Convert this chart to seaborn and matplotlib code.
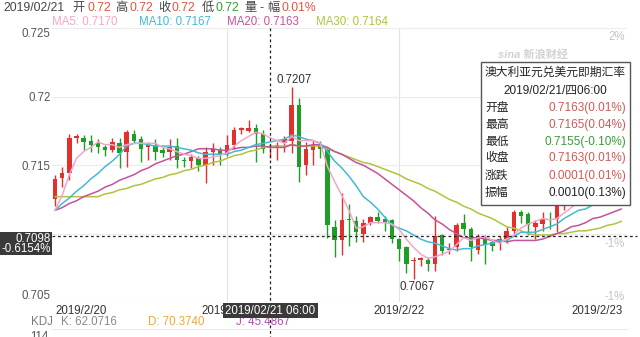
import numpy as np
import pandas as pd
import matplotlib
matplotlib.use("Agg")
import matplotlib.pyplot as plt
import seaborn as sns
from matplotlib.patches import Rectangle
from matplotlib.transforms import blended_transform_factory

# ---------------- data (hourly candles, AUD/USD, from 2019/2/20 00:00) ----------------
opens = [0.7125, 0.7141, 0.7144, 0.7170, 0.7170, 0.7168, 0.7166, 0.7163, 0.7161, 0.7166,
         0.7160, 0.7173, 0.7169, 0.7163, 0.7165, 0.7161, 0.7160, 0.7164, 0.7154, 0.7153,
         0.7155, 0.7150, 0.7160, 0.7161, 0.7159, 0.7165, 0.7176, 0.7175, 0.7177, 0.7173,
         0.7163, 0.7163, 0.7166, 0.7168, 0.7194, 0.7150, 0.7161, 0.7165, 0.7161, 0.7105,
         0.7095, 0.7111, 0.7109, 0.7100, 0.7108, 0.7112, 0.7111, 0.7110, 0.7096, 0.7090,
         0.7080, 0.7081, 0.7081, 0.7078, 0.7099, 0.7088, 0.7090, 0.7108, 0.7103, 0.7088,
         0.7096, 0.7094, 0.7093, 0.7096, 0.7102, 0.7116, 0.7114, 0.7105, 0.7107, 0.7111,
         0.7111, 0.7121, 0.7125, 0.7127, 0.7132, 0.7130, 0.7136, 0.7133, 0.7139, 0.7137]
highs = [0.7143, 0.7149, 0.7173, 0.7173, 0.7172, 0.7172, 0.7169, 0.7165, 0.7170, 0.7170,
         0.7176, 0.7176, 0.7171, 0.7167, 0.7169, 0.7163, 0.7169, 0.7170, 0.7156, 0.7158,
         0.7157, 0.7163, 0.7166, 0.7163, 0.7172, 0.7178, 0.7178, 0.7183, 0.7180, 0.7176,
         0.7165, 0.7167, 0.7171, 0.7207, 0.7199, 0.7167, 0.7168, 0.7168, 0.7163, 0.7110,
         0.7130, 0.7122, 0.7113, 0.7111, 0.7113, 0.7116, 0.7113, 0.7111, 0.7097, 0.7091,
         0.7083, 0.7083, 0.7083, 0.7113, 0.7100, 0.7093, 0.7108, 0.7114, 0.7105, 0.7100,
         0.7099, 0.7096, 0.7098, 0.7105, 0.7117, 0.7117, 0.7116, 0.7110, 0.7116, 0.7116,
         0.7126, 0.7128, 0.7131, 0.7134, 0.7136, 0.7138, 0.7140, 0.7141, 0.7142, 0.7143]
lows = [0.7120, 0.7134, 0.7139, 0.7166, 0.7161, 0.7160, 0.7159, 0.7157, 0.7160, 0.7148,
        0.7149, 0.7166, 0.7152, 0.7154, 0.7154, 0.7156, 0.7154, 0.7148, 0.7149, 0.7148,
        0.7146, 0.7137, 0.7150, 0.7150, 0.7157, 0.7162, 0.7173, 0.7174, 0.7152, 0.7159,
        0.7155, 0.7154, 0.7160, 0.7159, 0.7138, 0.7143, 0.7150, 0.7155, 0.7097, 0.7083,
        0.7084, 0.7091, 0.7094, 0.7094, 0.7106, 0.7108, 0.7102, 0.7093, 0.7080, 0.7071,
        0.7067, 0.7076, 0.7073, 0.7073, 0.7084, 0.7085, 0.7087, 0.7099, 0.7080, 0.7085,
        0.7078, 0.7087, 0.7088, 0.7093, 0.7100, 0.7108, 0.7099, 0.7096, 0.7102, 0.7103,
        0.7101, 0.7117, 0.7123, 0.7125, 0.7128, 0.7128, 0.7131, 0.7131, 0.7134, 0.7135]
closes = [0.7140, 0.7144, 0.7170, 0.7171, 0.7167, 0.7165, 0.7163, 0.7161, 0.7167, 0.7159,
          0.7174, 0.7168, 0.7162, 0.7165, 0.7160, 0.7159, 0.7163, 0.7154, 0.7153, 0.7156,
          0.7150, 0.7160, 0.7162, 0.7158, 0.7165, 0.7176, 0.7177, 0.7177, 0.7173, 0.7162,
          0.7163, 0.7165, 0.7169, 0.7194, 0.7149, 0.7162, 0.7165, 0.7162, 0.7106, 0.7095,
          0.7110, 0.7110, 0.7101, 0.7108, 0.7112, 0.7109, 0.7108, 0.7096, 0.7089, 0.7078,
          0.7081, 0.7082, 0.7078, 0.7098, 0.7087, 0.7089, 0.7106, 0.7103, 0.7090, 0.7098,
          0.7092, 0.7091, 0.7096, 0.7102, 0.7116, 0.7113, 0.7106, 0.7108, 0.7111, 0.7110,
          0.7121, 0.7125, 0.7127, 0.7132, 0.7130, 0.7136, 0.7133, 0.7139, 0.7137, 0.7140]

ma5 = [0.7117, 0.7128, 0.7143, 0.7155, 0.7160, 0.7163, 0.7167, 0.7165, 0.7165, 0.7163,
       0.7165, 0.7166, 0.7166, 0.7166, 0.7166, 0.7163, 0.7162, 0.7160, 0.7158, 0.7157,
       0.7155, 0.7155, 0.7156, 0.7157, 0.7159, 0.7164, 0.7168, 0.7171, 0.7174, 0.7173,
       0.7170, 0.7168, 0.7166, 0.7171, 0.7168, 0.7168, 0.7168, 0.7166, 0.7149, 0.7138,
       0.7128, 0.7117, 0.7104, 0.7105, 0.7108, 0.7108, 0.7108, 0.7107, 0.7103, 0.7096,
       0.7090, 0.7085, 0.7082, 0.7083, 0.7085, 0.7087, 0.7092, 0.7097, 0.7095, 0.7097,
       0.7098, 0.7095, 0.7093, 0.7096, 0.7099, 0.7104, 0.7107, 0.7109, 0.7111, 0.7110,
       0.7111, 0.7115, 0.7119, 0.7123, 0.7127, 0.7130, 0.7132, 0.7134, 0.7135, 0.7137]
ma10 = [0.7117, 0.7122, 0.7126, 0.7131, 0.7135, 0.7140, 0.7144, 0.7149, 0.7153, 0.7158,
        0.7164, 0.7166, 0.7166, 0.7165, 0.7164, 0.7164, 0.7164, 0.7163, 0.7162, 0.7161,
        0.7159, 0.7158, 0.7158, 0.7158, 0.7158, 0.7160, 0.7161, 0.7163, 0.7165, 0.7166,
        0.7167, 0.7168, 0.7169, 0.7172, 0.7171, 0.7169, 0.7168, 0.7166, 0.7160, 0.7153,
        0.7148, 0.7142, 0.7135, 0.7127, 0.7123, 0.7118, 0.7112, 0.7106, 0.7104, 0.7102,
        0.7099, 0.7096, 0.7094, 0.7093, 0.7091, 0.7089, 0.7088, 0.7089, 0.7089, 0.7091,
        0.7092, 0.7093, 0.7095, 0.7095, 0.7098, 0.7101, 0.7101, 0.7101, 0.7103, 0.7105,
        0.7107, 0.7111, 0.7114, 0.7117, 0.7118, 0.7121, 0.7123, 0.7126, 0.7129, 0.7132]
ma20 = [0.7117, 0.7119, 0.7122, 0.7124, 0.7127, 0.7129, 0.7131, 0.7134, 0.7136, 0.7139,
        0.7141, 0.7143, 0.7146, 0.7148, 0.7151, 0.7153, 0.7155, 0.7157, 0.7158, 0.7160,
        0.7162, 0.7162, 0.7162, 0.7161, 0.7161, 0.7162, 0.7163, 0.7163, 0.7164, 0.7164,
        0.7163, 0.7163, 0.7163, 0.7165, 0.7164, 0.7164, 0.7165, 0.7165, 0.7163, 0.7160,
        0.7158, 0.7155, 0.7152, 0.7150, 0.7147, 0.7144, 0.7140, 0.7136, 0.7132, 0.7128,
        0.7124, 0.7119, 0.7115, 0.7110, 0.7107, 0.7103, 0.7100, 0.7097, 0.7097, 0.7097,
        0.7096, 0.7095, 0.7095, 0.7094, 0.7095, 0.7095, 0.7095, 0.7095, 0.7096, 0.7098,
        0.7100, 0.7102, 0.7105, 0.7106, 0.7108, 0.7111, 0.7112, 0.7114, 0.7116, 0.7118]
ma30 = [0.7127, 0.7127, 0.7127, 0.7127, 0.7127, 0.7127, 0.7127, 0.7129, 0.7130, 0.7132,
        0.7133, 0.7135, 0.7136, 0.7138, 0.7140, 0.7141, 0.7143, 0.7144, 0.7146, 0.7147,
        0.7149, 0.7150, 0.7152, 0.7153, 0.7155, 0.7157, 0.7158, 0.7160, 0.7161, 0.7163,
        0.7164, 0.7164, 0.7164, 0.7165, 0.7164, 0.7164, 0.7164, 0.7164, 0.7162, 0.7160,
        0.7158, 0.7156, 0.7154, 0.7152, 0.7151, 0.7149, 0.7147, 0.7145, 0.7143, 0.7140,
        0.7138, 0.7136, 0.7133, 0.7131, 0.7128, 0.7125, 0.7123, 0.7120, 0.7118, 0.7115,
        0.7113, 0.7111, 0.7108, 0.7105, 0.7104, 0.7102, 0.7100, 0.7099, 0.7099, 0.7099,
        0.7100, 0.7100, 0.7101, 0.7102, 0.7102, 0.7103, 0.7104, 0.7106, 0.7107, 0.7109]

ma_names = ["MA5", "MA10", "MA20", "MA30"]
ma_now = ["0.7170", "0.7167", "0.7163", "0.7164"]
day_ticks = [0, 24, 48, 72]
day_labels = ["2019/2/20", "2019/2/21", "2019/2/22", "2019/2/23"]
y_ticks = [0.705, 0.71, 0.715, 0.72, 0.725]
y_tick_labels = ["0.705", "0.71", "0.715", "0.72", "0.725"]
cross_idx = 30
cross_price = 0.7098
cross_price_label = "0.7098"
cross_pct_label = "-0.6154%"
cross_time_label = "2019/02/21 06:00"
hi_idx, hi_label = 33, "0.7207"
lo_idx, lo_label = 50, "0.7067"
tip_title = "澳大利亚元兑美元即期汇率"
tip_date = "2019/02/21/四06:00"
tip_keys = ["开盘", "最高", "最低", "收盘", "涨跌", "振幅"]
tip_vals = ["0.7163(0.01%)", "0.7165(0.04%)", "0.7155(-0.10%)", "0.7163(0.01%)",
            "0.0001(0.01%)", "0.0010(0.13%)"]
head_parts = [("2019/02/21", "k"), ("开", "k"), ("0.72", "r"), ("高", "k"), ("0.72", "r"),
              ("收", "k"), ("0.72", "r"), ("低", "k"), ("0.72", "g"), ("量", "k"),
              ("-", "k"), ("幅", "k"), ("0.01%", "r")]
kdj_parts = [("KDJ", "#7a7a7a"), ("K: 62.0716", "#8a8a8a"), ("D: 70.3740", "#e8a840"),
             ("J: 45.4867", "#b04cb0")]
right_pct = [("2%", 37), ("-1%", 244), ("-1%", 297)]

# ---------------- style ----------------
sns.set_theme(style="white")
plt.rcParams["font.family"] = ["Liberation Sans", "Noto Sans CJK SC", "DejaVu Sans"]

RED = "#e2302c"
GREEN = "#1f9e27"
MA_COLORS = {"MA5": "#f2a6c9", "MA10": "#45b9d3", "MA20": "#c4529a", "MA30": "#b3c23c"}
TIP_RED = "#cf5a55"
TIP_GREEN = "#3a9b3a"

W, H = 640, 337
def fx(x):
    return x / W
def fy(y):
    return 1 - y / H

fig = plt.figure(figsize=(6.4, 3.37), dpi=100)
fig.patch.set_facecolor("white")
ax_left, ax_right, ax_top, ax_bot = 52, 627, 28.4, 302
ax = fig.add_axes([fx(ax_left), fy(ax_bot), (ax_right - ax_left) / W, (ax_bot - ax_top) / H])
px_per_candle = 7.17
ax.set_xlim((ax_left - 55) / px_per_candle, (ax_right - 55) / px_per_candle)
ax.set_ylim(y_ticks[0], y_ticks[-1])
for s in ax.spines.values():
    s.set_visible(False)

# grid
ax.set_yticks(y_ticks)
ax.set_yticklabels(y_tick_labels)
ax.tick_params(axis="y", length=0, pad=1, labelsize=8.3, labelcolor="#555555")
ylab = ax.get_yticklabels()
ylab[0].set_va("bottom")
ylab[-1].set_va("top")
ylab[1].set_visible(False)   # hidden behind the crosshair price label in the reference
ax.grid(axis="y", color="#ececec", lw=0.8, zorder=0)
for d in day_ticks[1:3]:
    ax.axvline(d, color="#e2e2e2", lw=0.8, zorder=0)
ax.set_xticks(day_ticks)
ax.set_xticklabels(day_labels)
ax.tick_params(axis="x", length=0, pad=2.5, labelsize=8.3, labelcolor="#333333")
xlab = ax.get_xticklabels()
xlab[0].set_ha("left")
xlab[-1].set_ha("left")

# candles
o = np.array(opens); h = np.array(highs); l = np.array(lows); c = np.array(closes)
idx = np.arange(len(o))
cols = np.where(c >= o, RED, GREEN)
ax.vlines(idx, l, h, colors=cols, lw=1.0, zorder=2)
body_bottom = np.minimum(o, c)
body_h = np.maximum(np.abs(c - o), 0.00008)
ax.bar(idx, body_h, bottom=body_bottom, width=0.62, color=cols, linewidth=0, zorder=2.5)

# moving averages via seaborn
ma_df = pd.DataFrame({
    "idx": np.tile(idx, 4),
    "value": np.concatenate([ma5, ma10, ma20, ma30]),
    "series": np.repeat(ma_names, len(idx)),
})
sns.lineplot(data=ma_df, x="idx", y="value", hue="series", hue_order=ma_names[::-1],
             palette=MA_COLORS, legend=False, ax=ax, linewidth=1.1, zorder=3)
ax.set_xlabel("")
ax.set_ylabel("")

# high / low annotations
ax.annotate(hi_label, (hi_idx, highs[hi_idx]), xytext=(3, 1), textcoords="offset pixels",
            ha="center", va="bottom", fontsize=8.3, color="#333333", zorder=6)
ax.annotate(lo_label, (lo_idx, lows[lo_idx]), xytext=(4, -2), textcoords="offset pixels",
            ha="center", va="top", fontsize=8.3, color="#333333", zorder=6)

# crosshair
tr_v = blended_transform_factory(ax.transData, ax.transAxes)
ax.plot([cross_idx, cross_idx], [1.0, -(H - ax_bot) / (ax_bot - ax_top) - 0.02],
        transform=tr_v, color="#222222", lw=0.9, ls=(0, (2.2, 2.2)), clip_on=False, zorder=5)
tr_h = blended_transform_factory(ax.transAxes, ax.transData)
ax.plot([0, (637 - ax_left) / (ax_right - ax_left)], [cross_price, cross_price],
        transform=tr_h, color="#222222", lw=0.9, ls=(0, (2.2, 2.2)), clip_on=False, zorder=5)

# header line
head_x = [3, 72, 87, 115, 129, 158, 172, 202, 216, 244, 259, 267, 281]
cmap = {"k": "#444444", "r": "#e0553f", "g": "#2f9e3a"}
for (txt, cc), x in zip(head_parts, head_x):
    fig.text(fx(x), fy(8), txt, ha="left", va="center", fontsize=8.8, color=cmap[cc])

# MA legend
for name, val, x in zip(ma_names, ma_now, [52, 139, 227, 316]):
    fig.text(fx(x), fy(22), f"{name}: {val}", ha="left", va="center", fontsize=8.3,
             color=MA_COLORS[name])

# right side percent labels
for txt, y in right_pct:
    fig.text(fx(625), fy(y), txt, ha="right", va="center", fontsize=8.3, color="#c4c4c4")

# watermark
fig.text(fx(533), fy(54), "sina 新浪财经", ha="center", va="center", fontsize=8,
         color="#d2d2d2", style="italic", weight="bold")

# crosshair labels
fig.patches.append(Rectangle((fx(0), fy(255)), fx(52), 23 / H, transform=fig.transFigure,
                             facecolor="#3a3a3a", edgecolor="none", zorder=10))
fig.text(fx(51), fy(238.5), cross_price_label, ha="right", va="center", fontsize=8.3,
         color="white", zorder=11)
fig.text(fx(51), fy(249.5), cross_pct_label, ha="right", va="center", fontsize=8.3,
         color="white", zorder=11)
fig.patches.append(Rectangle((fx(223), fy(318)), fx(95), 15 / H, transform=fig.transFigure,
                             facecolor="#3a3a3a", edgecolor="none", zorder=10))
fig.text(fx(270.5), fy(310.5), cross_time_label, ha="center", va="center", fontsize=8.3,
         color="white", zorder=11)

# tooltip box
fig.patches.append(Rectangle((fx(481), fy(205)), (630 - 481) / W, (205 - 62) / H,
                             transform=fig.transFigure, facecolor="white",
                             edgecolor="#555555", lw=1.0, zorder=10))
fig.text(fx(555.5), fy(73), tip_title, ha="center", va="center", fontsize=8.5,
         color="#222222", zorder=11)
fig.text(fx(555.5), fy(90), tip_date, ha="center", va="center", fontsize=8.5,
         color="#222222", zorder=11)
val_cols = [TIP_RED, TIP_RED, TIP_GREEN, TIP_RED, TIP_RED, "#222222"]
for k, v, vc, y in zip(tip_keys, tip_vals, val_cols, [108, 125, 142, 158.5, 175.5, 193]):
    fig.text(fx(485), fy(y), k, ha="left", va="center", fontsize=8.5, color="#222222", zorder=11)
    fig.text(fx(626), fy(y), v, ha="right", va="center", fontsize=8.5, color=vc, zorder=11)

# KDJ indicator row
for (txt, cc), x in zip(kdj_parts, [31, 61, 148, 236]):
    fig.text(fx(x), fy(322), txt, ha="left", va="center", fontsize=8.3, color=cc, zorder=4)
fig.add_artist(plt.Line2D([fx(ax_left), fx(ax_right)], [fy(329), fy(329)],
                          transform=fig.transFigure, color="#ececec", lw=0.8, zorder=1))
fig.text(fx(49), fy(331), "114", ha="right", va="top", fontsize=8.3, color="#555555")

fig.savefig("out.png", dpi=100, facecolor="white")
